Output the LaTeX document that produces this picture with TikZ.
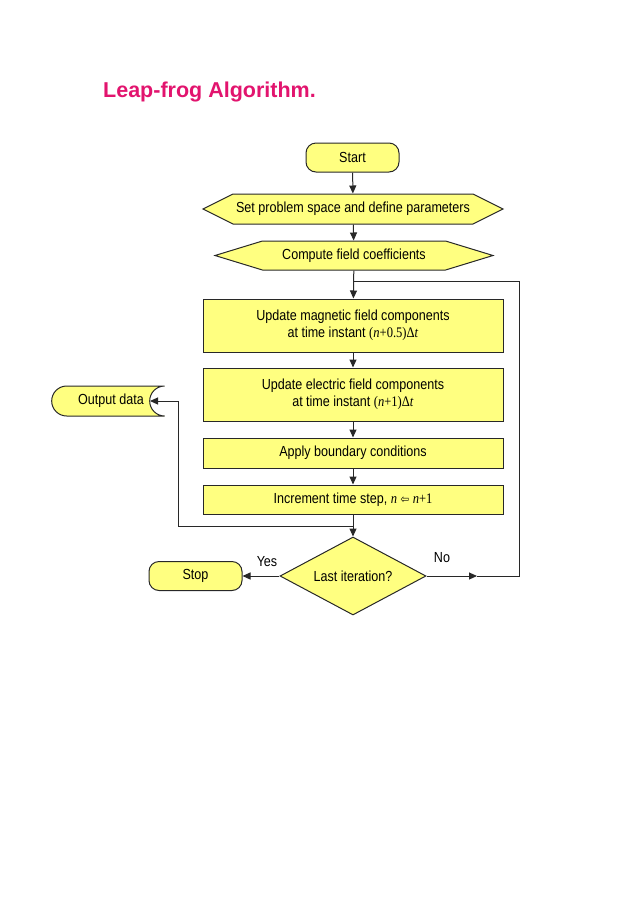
\documentclass[tikz,border=0pt]{standalone}
\usepackage{fontspec}
\setmainfont{Liberation Sans}
\newfontfamily\flowfont{Liberation Sans}[FakeStretch=0.86]
\newfontfamily\timesfont{Liberation Serif}[FakeStretch=0.86]
\newfontfamily\arrowfont{DejaVu Sans}[FakeStretch=0.86]
\usepackage{xcolor}
\usepackage{tikz}
\usetikzlibrary{arrows.meta,shapes.geometric,shapes.symbols,shapes.misc}
\definecolor{boxyellow}{RGB}{255,255,128}
\definecolor{headingpink}{RGB}{226,20,110}
\definecolor{edgegrey}{RGB}{40,40,40}
\tikzstyle{heading}=[text=headingpink, font=\fontsize{21.5}{26}\selectfont\bfseries, inner sep=0pt]
\tikzstyle{flow}=[fill=boxyellow, draw=edgegrey, line width=1pt, font=\flowfont\fontsize{14.6}{16.7}\selectfont, align=center, inner sep=0pt]
\tikzstyle{terminal}=[flow, shape=rectangle, rounded corners=10pt, minimum width=93pt, minimum height=29pt]
\tikzstyle{prep}=[flow, shape=signal, signal to=west and east, minimum height=30pt]
\tikzstyle{process}=[flow, shape=rectangle, minimum width=300pt]
\tikzstyle{decision}=[flow, shape=diamond, aspect=2, minimum width=146pt, minimum height=78pt]
\tikzstyle{stored}=[flow, shape=rounded rectangle, rounded rectangle right arc=concave, minimum width=113pt, minimum height=30pt]
\tikzstyle{branch text}=[font=\flowfont\fontsize{14.6}{16.7}\selectfont, inner sep=0pt]
\tikzstyle{arrow edge}=[-{Triangle[length=8pt,width=7pt]}, draw=edgegrey, line width=1pt]
\tikzstyle{plain edge}=[-, draw=edgegrey, line width=1pt]
\pgfdeclarelayer{nodelayer}
\pgfdeclarelayer{edgelayer}
\pgfsetlayers{edgelayer,nodelayer,main}
\begin{document}
\begin{tikzpicture}[x=10pt, y=10pt]
	\useasboundingbox (0, 0) rectangle (63.8, -90.3);
	\begin{pgfonlayer}{nodelayer}
		\node [style=heading, anchor=base west] (0) at (10.3, -9.7) {Leap-frog Algorithm.};
		\node [style=terminal] (1) at (35.25, -15.75) {Start};
		\node [style=prep, minimum width=300pt, signal pointer angle=53] (2) at (35.3, -20.9) {Set problem space and define parameters};
		\node [style=prep, minimum width=278pt, minimum height=29pt, signal pointer angle=34] (3) at (35.4, -25.55) {Compute field coefficients};
		\node [style=process, minimum height=53pt] (4) at (35.3, -32.55) {Update magnetic field components\\at time instant {\timesfont(\textit{n}+0.5)Δ\textit{t}}};
		\node [style=process, minimum height=53pt] (5) at (35.3, -39.45) {Update electric field components\\at time instant {\timesfont(\textit{n}+1)Δ\textit{t}}};
		\node [style=process, minimum height=30pt] (6) at (35.3, -45.3) {Apply boundary conditions};
		\node [style=process, minimum height=29pt] (7) at (35.3, -49.95) {Increment time step, {\timesfont\textit{n}} {\arrowfont\fontsize{12}{14}\selectfont ⇦} {\timesfont\textit{n}+1}};
		\node [style=decision] (8) at (35.3, -57.6) {Last iteration?};
		\node [style=terminal] (9) at (19.55, -57.6) {Stop};
		\node [style=stored] (10) at (10.15, -40.1) {\hspace{19pt}Output data};
		\node [style=branch text] (11) at (26.7, -56.2) {Yes};
		\node [style=branch text] (12) at (44.2, -55.8) {No};
		\coordinate (13) at (35.3, -28.1);
		\coordinate (14) at (51.9, -28.1);
		\coordinate (15) at (47.7, -57.6);
		\coordinate (16) at (35.3, -52.6);
		\coordinate (17) at (17.8, -40.1);
		\coordinate (18) at (15.0, -40.1);
	\end{pgfonlayer}
	\begin{pgfonlayer}{edgelayer}
		\draw [style=arrow edge] (1) to (2);
		\draw [style=arrow edge] (2) to (3);
		\draw [style=arrow edge] (3) to (4);
		\draw [style=arrow edge] (4) to (5);
		\draw [style=arrow edge] (5) to (6);
		\draw [style=arrow edge] (6) to (7);
		\draw [style=arrow edge] (7) to (8);
		\draw [style=arrow edge] (8) to (9);
		\draw [style=arrow edge] (8) to (15);
		\draw [style=plain edge] (15) -| (14) -- (13);
		\draw [style=arrow edge] (16) -| (17) -- (18);
	\end{pgfonlayer}
\end{tikzpicture}
\end{document}
